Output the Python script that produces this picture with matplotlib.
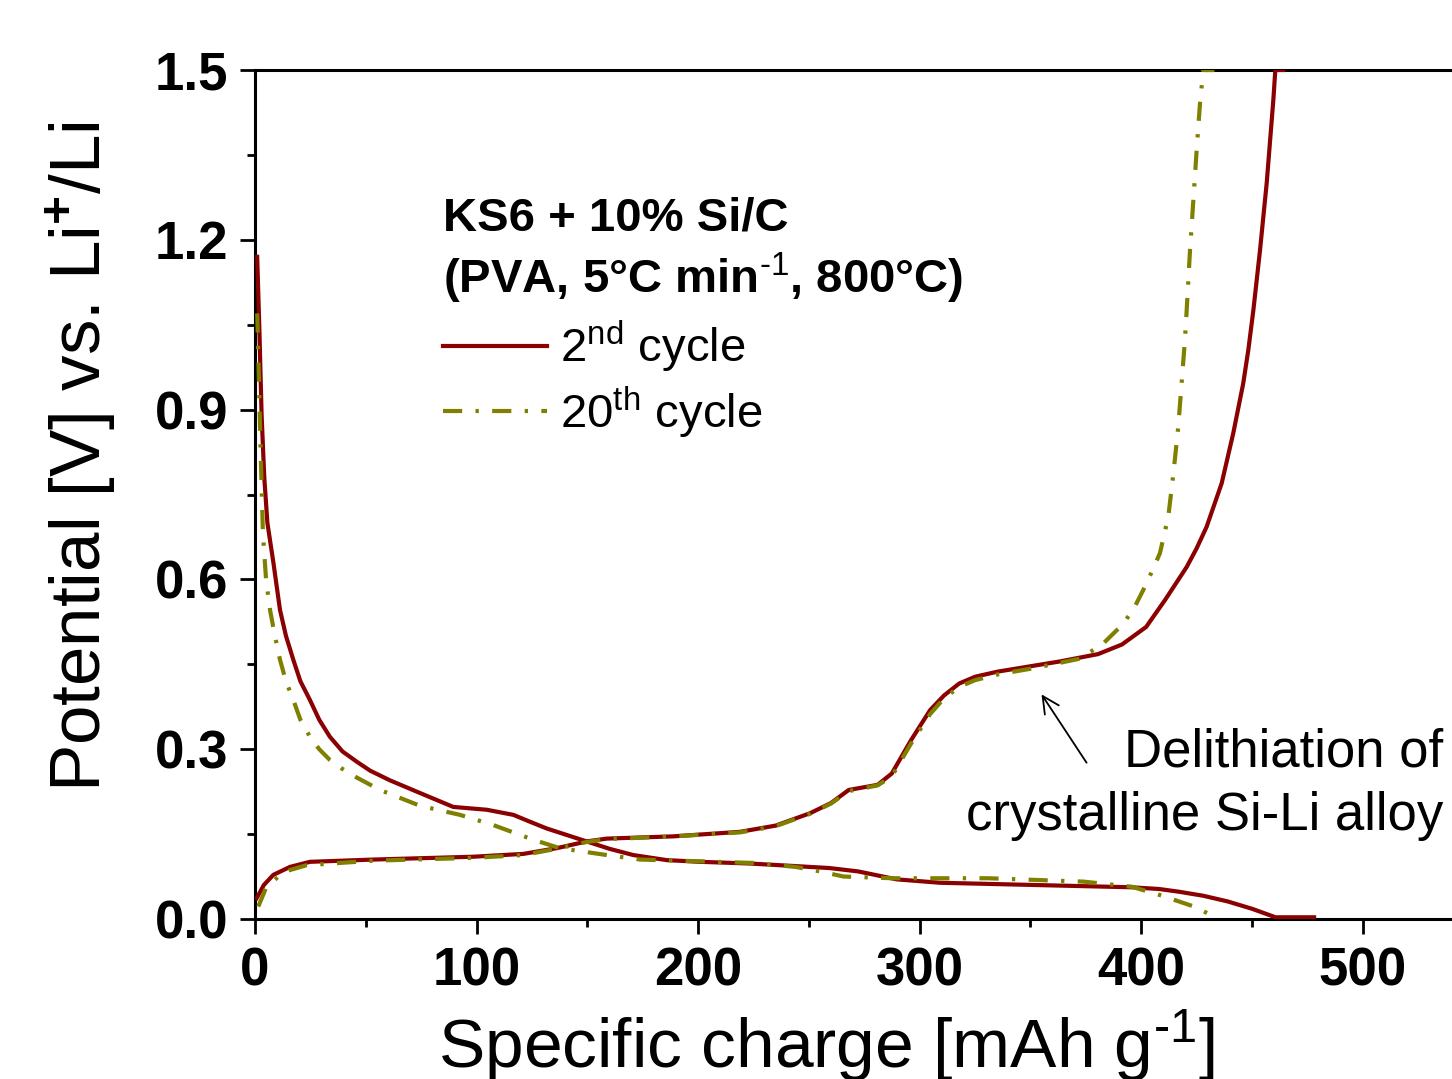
#!/usr/bin/env python3
"""
Galvanostatic potential profiles of KS6 + 10% Si/C (2nd vs. 20th cycle).
"""
import matplotlib
matplotlib.use('Agg')
import matplotlib.pyplot as plt
from matplotlib.lines import Line2D
from matplotlib.ticker import MultipleLocator

# ---- data (specific charge [mAh/g], potential [V]) ----
# 2nd cycle, lithiation (potential decreasing)
c2_lith_q = [1.0, 2.0, 3.0, 4.2, 5.6, 8.3, 11.3, 14.0, 17.3, 20.5, 24.8, 29.0,
             33.8, 39.5, 45.9, 52.0, 60.9, 73.0, 89.5, 104.6, 116.6, 124.0,
             131.6, 149.7, 160.0, 170.7, 185.8, 200.8, 223.4, 241.5, 259.3,
             272.3, 289.6, 309.1, 352.4, 395.7, 408.0, 417.3, 428.0, 439.0,
             450.0, 460.6, 478.0]
c2_lith_v = [1.17, 1.04, 0.89, 0.78, 0.70, 0.63, 0.546, 0.50, 0.458, 0.42,
             0.387, 0.352, 0.322, 0.296, 0.278, 0.262, 0.245, 0.225, 0.198,
             0.193, 0.184, 0.172, 0.160, 0.137, 0.124, 0.113, 0.104, 0.101,
             0.098, 0.094, 0.090, 0.084, 0.070, 0.064, 0.060, 0.056, 0.053,
             0.048, 0.041, 0.031, 0.018, 0.003, 0.003]
# 2nd cycle, delithiation (potential increasing)
c2_deli_q = [0.8, 4.0, 8.3, 15.8, 24.8, 53.4, 98.5, 121.1, 136.1, 149.7, 158.7,
             188.8, 218.9, 235.0, 250.6, 260.0, 268.0, 281.0, 287.4, 296.1,
             304.7, 311.0, 317.8, 325.0, 335.1, 363.2, 380.5, 391.3, 402.2,
             410.8, 420.5, 425.0, 429.5, 436.3, 441.5, 446.0, 448.3, 450.6,
             453.6, 456.6, 459.6, 460.5, 464.0]
c2_deli_v = [0.037, 0.060, 0.078, 0.092, 0.101, 0.105, 0.110, 0.115, 0.125,
             0.137, 0.142, 0.146, 0.154, 0.165, 0.187, 0.205, 0.228, 0.237,
             0.257, 0.316, 0.369, 0.395, 0.416, 0.428, 0.437, 0.455, 0.468,
             0.485, 0.516, 0.564, 0.622, 0.655, 0.693, 0.770, 0.858, 0.946,
             1.005, 1.076, 1.182, 1.300, 1.447, 1.50, 1.50]
# 20th cycle, lithiation
c20_lith_q = [1.0, 1.8, 2.6, 3.6, 5.0, 6.8, 9.0, 11.3, 14.0, 17.3, 20.5, 24.8,
              29.0, 33.8, 39.5, 45.9, 56.4, 74.5, 92.5, 107.5, 125.6, 137.7,
              158.7, 173.8, 200.0, 225.0, 244.0, 255.0, 265.7, 287.4, 330.7,
              374.0, 395.7, 408.6, 423.8, 434.6]
c20_lith_v = [1.07, 0.95, 0.82, 0.68, 0.60, 0.546, 0.50, 0.458, 0.42, 0.387,
              0.352, 0.322, 0.300, 0.281, 0.265, 0.250, 0.228, 0.200, 0.184,
              0.166, 0.140, 0.125, 0.113, 0.105, 0.102, 0.099, 0.092, 0.084,
              0.075, 0.072, 0.072, 0.066, 0.057, 0.042, 0.022, 0.001]
# 20th cycle, delithiation
c20_deli_q = [1.5, 5.0, 12.8, 23.3, 53.4, 98.5, 121.1, 136.1, 149.7, 158.7,
              188.8, 218.9, 235.0, 250.6, 260.0, 268.0, 281.0, 287.4, 296.1,
              304.7, 311.0, 317.8, 325.0, 335.1, 351.3, 372.4, 382.9, 392.0,
              397.1, 402.4, 408.4, 412.2, 414.5, 416.7, 418.2, 419.7, 420.5,
              422.0, 423.5, 425.0, 426.5, 428.0, 433.0]
c20_deli_v = [0.022, 0.055, 0.083, 0.095, 0.103, 0.108, 0.113, 0.124, 0.136,
              0.141, 0.146, 0.153, 0.164, 0.186, 0.204, 0.226, 0.236, 0.252,
              0.310, 0.362, 0.390, 0.410, 0.422, 0.432, 0.443, 0.460, 0.487,
              0.522, 0.552, 0.593, 0.646, 0.711, 0.787, 0.870, 0.946, 1.023,
              1.076, 1.182, 1.270, 1.359, 1.441, 1.50, 1.50]

series_labels = ['2$^{\\mathrm{nd}}$ cycle', '20$^{\\mathrm{th}}$ cycle']
sample_lines = ['KS6 + 10% Si/C', '(PVA, 5°C min$^{\\text{-1}}$, 800°C)']
note_lines = ['Delithiation of', 'crystalline Si-Li alloy']

RED = '#8b0000'
OLIVE = '#808000'
DASHDOT = (4.6, 3.2, 0.8, 3.2)

plt.rcParams['font.family'] = ['Liberation Sans', 'DejaVu Sans']
plt.rcParams['mathtext.fontset'] = 'custom'
plt.rcParams['mathtext.rm'] = 'Liberation Sans'
plt.rcParams['mathtext.it'] = 'Liberation Sans:italic'
plt.rcParams['mathtext.bf'] = 'Liberation Sans:bold'


def main():
    fig = plt.figure(figsize=(14.52, 10.79), dpi=100)
    # axes run past the right edge of the figure, as in the (cropped) original
    ax = fig.add_axes([0.1756, 0.1483, 0.8393, 0.7868])

    lw = 3.0
    ax.plot(c2_lith_q, c2_lith_v, color=RED, lw=lw, zorder=3)
    ax.plot(c2_deli_q, c2_deli_v, color=RED, lw=lw, zorder=3)
    ax.plot(c20_lith_q, c20_lith_v, color=OLIVE, lw=lw, dashes=DASHDOT, zorder=4)
    ax.plot(c20_deli_q, c20_deli_v, color=OLIVE, lw=lw, dashes=DASHDOT, zorder=4)

    ax.set_xlim(0, 550)
    ax.set_ylim(0, 1.5)
    ax.xaxis.set_major_locator(MultipleLocator(100))
    ax.xaxis.set_minor_locator(MultipleLocator(50))
    ax.yaxis.set_major_locator(MultipleLocator(0.3))
    ax.yaxis.set_minor_locator(MultipleLocator(0.15))
    ax.yaxis.set_major_formatter(lambda v, pos: f'{v:.1f}')

    for s in ('left', 'bottom', 'top'):
        ax.spines[s].set_linewidth(2.2)
    ax.spines['right'].set_visible(False)
    ax.tick_params(which='major', direction='out', length=11, width=2.0,
                   labelsize=38)
    ax.tick_params(which='minor', direction='out', length=6, width=2.0)
    ax.tick_params(axis='x', which='major', pad=9)
    ax.tick_params(axis='y', which='major', pad=8)
    for t in ax.get_xticklabels() + ax.get_yticklabels():
        t.set_fontweight('bold')

    ax.set_xlabel('Specific charge [mAh g$^{\\text{-1}}$]', fontsize=50)
    ax.set_ylabel('Potential [V] vs. Li$^{\\mathbf{+}}$/Li', fontsize=51)
    ax.xaxis.set_label_coords(0.4686, -0.105)
    ax.yaxis.set_label_coords(-0.112, 0.545)

    # sample description + legend
    ax.text(0.1543, 0.8115, sample_lines[0], transform=ax.transAxes,
            fontsize=34, fontweight='bold', va='baseline', ha='left')
    ax.text(0.1543, 0.7373, sample_lines[1], transform=ax.transAxes,
            fontsize=34, fontweight='bold', va='baseline', ha='left')
    handles = [Line2D([], [], color=RED, lw=lw),
               Line2D([], [], color=OLIVE, lw=lw, dashes=DASHDOT)]
    ax.legend(handles, series_labels, loc='upper left',
              bbox_to_anchor=(0.1543, 0.707), frameon=False, fontsize=34,
              borderpad=0, borderaxespad=0, handlelength=2.2,
              handletextpad=0.28, labelspacing=0.2)

    # annotation
    ax.annotate('', xy=(354.3, 0.401), xytext=(376.0, 0.272),
                arrowprops=dict(arrowstyle='->', color='black', lw=1.3,
                                mutation_scale=30))
    ax.text(536.2, 0.269, note_lines[0], fontsize=38, ha='right', va='baseline')
    ax.text(536.2, 0.157, note_lines[1], fontsize=38, ha='right', va='baseline')

    fig.savefig('out.png', dpi=100, facecolor='white')


if __name__ == '__main__':
    main()
